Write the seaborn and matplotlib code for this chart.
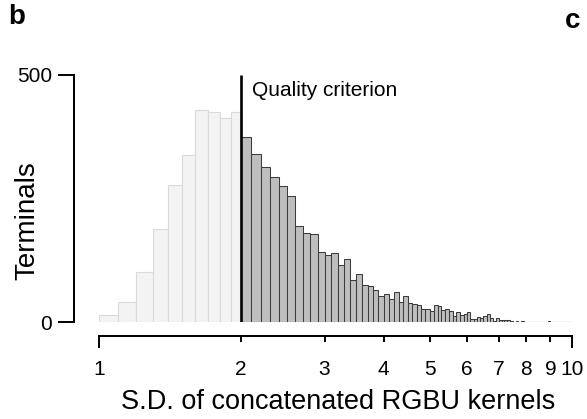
import numpy as np
import pandas as pd
import matplotlib
matplotlib.use("Agg")
import matplotlib.pyplot as plt
import matplotlib.ticker as mticker
import seaborn as sns

# ---- data (bins of width 0.1 from 1.0 to 10.0) ----
bin_width = 0.1
low_counts = [15, 40, 102, 188, 278, 338, 429, 425, 413, 425]          # 1.0 - 2.0
high_counts = [375, 340, 314, 293, 276, 255, 194, 180, 178, 142,        # 2.0 - 3.0
               135, 139, 115, 127, 85, 98, 75, 72, 64, 53,              # 3.0 - 4.0
               56, 47, 60, 41, 53, 38, 36, 34, 27, 27,                  # 4.0 - 5.0
               23, 34, 32, 25, 27, 22, 12, 20, 14, 17,                  # 5.0 - 6.0
               20, 7, 7, 10, 8, 12, 17, 8, 2, 8,                        # 6.0 - 7.0
               5, 5, 5, 4, 2, 1, 2, 0, 2, 1,                            # 7.0 - 8.0
               0, 0, 0, 0, 1, 1, 0, 0, 1, 2,                            # 8.0 - 9.0
               0, 0, 0, 0, 0, 0, 0, 0, 0, 0]                            # 9.0 - 10.0
criterion = 2.0
x_ticks_major = [1, 10]
x_ticks_minor = [2, 3, 4, 5, 6, 7, 8, 9]
y_ticks = [0, 500]

low_edges = [round(1.0 + i * bin_width, 2) for i in range(len(low_counts) + 1)]
high_edges = [round(criterion + i * bin_width, 2) for i in range(len(high_counts) + 1)]
low_df = pd.DataFrame({"sd": [(a + b) / 2 for a, b in zip(low_edges[:-1], low_edges[1:])],
                       "n": low_counts})
high_df = pd.DataFrame({"sd": [(a + b) / 2 for a, b in zip(high_edges[:-1], high_edges[1:])],
                        "n": high_counts})

sns.set_style("ticks")
plt.rcParams["font.family"] = ["Liberation Sans", "DejaVu Sans"]
for key in ["text.color", "axes.labelcolor", "xtick.color", "ytick.color"]:
    plt.rcParams[key] = "black"

W, H = 587, 419
fig = plt.figure(figsize=(W / 100, H / 100), dpi=100)
ax = fig.add_axes([98.7 / W, 97 / H, 473.3 / W, 247 / H])

sns.histplot(data=low_df, x="sd", weights="n", bins=low_edges, ax=ax,
             color="#f3f3f3", edgecolor="#dadada", linewidth=0.8, alpha=1)
sns.histplot(data=high_df, x="sd", weights="n", bins=high_edges, ax=ax,
             color="#bebebe", edgecolor="#3c3c3c", linewidth=0.75, alpha=1)

ax.set_xscale("log")
ax.set_xlim(1, 10)
ax.set_ylim(0, 500)

# thin baseline under the (partly empty) tail bins
ax.plot([high_edges[0], high_edges[-1]], [0, 0], color="#8a8a8a", lw=0.8, zorder=1)
ax.plot([criterion, criterion], [0, 500], color="black", lw=1.9, solid_capstyle="butt")
ax.text(2.105, 457, "Quality criterion", fontsize=15, ha="left", va="baseline")

# ticks
ax.xaxis.set_major_locator(mticker.FixedLocator(x_ticks_major))
ax.xaxis.set_minor_locator(mticker.FixedLocator(x_ticks_minor))
ax.xaxis.set_major_formatter(mticker.FixedFormatter([str(v) for v in x_ticks_major]))
ax.xaxis.set_minor_formatter(mticker.FixedFormatter([str(v) for v in x_ticks_minor]))
ax.set_yticks(y_ticks)
ax.tick_params(axis="x", which="major", length=8.6, width=1.4, labelsize=15, pad=8.5, direction="out", colors="black")
ax.tick_params(axis="x", which="minor", length=4.3, width=1.4, labelsize=15, pad=12.8, direction="out", colors="black")
ax.tick_params(axis="y", length=11.5, width=1.4, labelsize=15, pad=4.3, direction="out", colors="black")

for s in ["top", "right"]:
    ax.spines[s].set_visible(False)
ax.spines["left"].set_position(("outward", 17.8))
ax.spines["bottom"].set_position(("outward", 10))
ax.spines["left"].set_bounds(0, 500)
ax.spines["bottom"].set_bounds(1, 10)
for s in ["left", "bottom"]:
    ax.spines[s].set_linewidth(1.44)
    ax.spines[s].set_color("black")

ax.set_xlabel("S.D. of concatenated RGBU kernels", fontsize=19.5, color="black")
ax.set_ylabel("Terminals", fontsize=20, color="black")
ax.xaxis.set_label_coords(0.506, -0.27)
ax.yaxis.set_label_coords(-0.124, 0.41)

fig.text(8 / W, 1 - 4 / H, "b", fontsize=20, fontweight="bold", ha="left", va="top", color="black")
fig.text(565 / W, 1 - 28 / H, "c", fontsize=20, fontweight="bold", ha="left", va="baseline", color="black")

fig.savefig("out.png", dpi=100)
